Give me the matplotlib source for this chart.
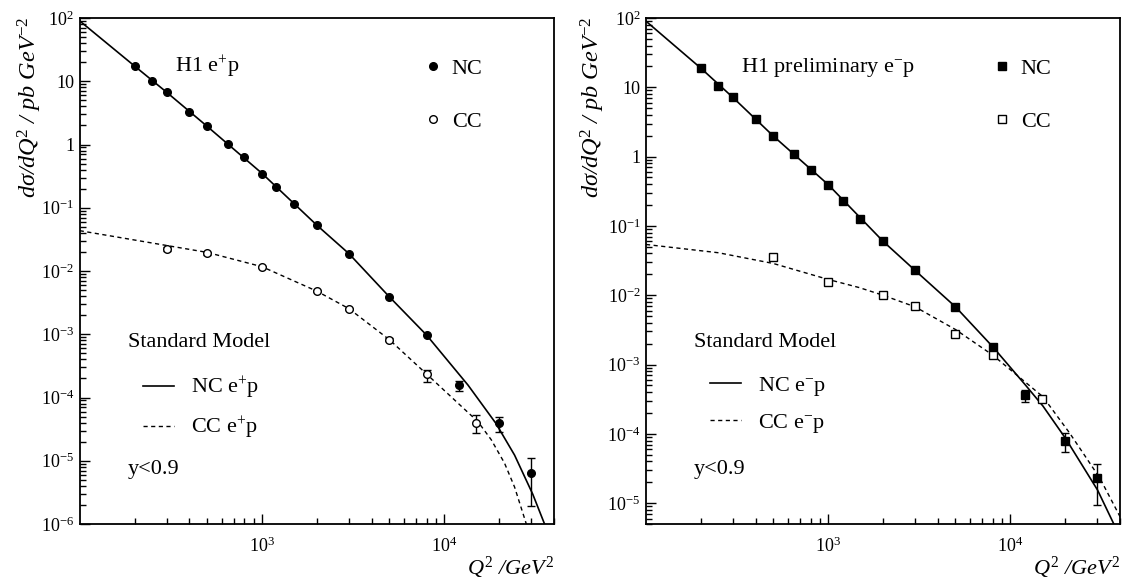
import numpy as np
import matplotlib
matplotlib.use("Agg")
import matplotlib.pyplot as plt
from matplotlib.ticker import LogLocator, NullFormatter

plt.rcParams['font.family'] = ['Liberation Serif', 'DejaVu Serif']
plt.rcParams['mathtext.fontset'] = 'custom'
plt.rcParams['mathtext.rm'] = 'Liberation Serif'
plt.rcParams['mathtext.it'] = 'Liberation Serif:italic'
plt.rcParams['mathtext.bf'] = 'Liberation Serif:bold'

# ---- e+p (left) ----
ep_nc_q = [200, 250, 300, 400, 500, 650, 800, 1000, 1200, 1500, 2000, 3000, 5000, 8000, 12000, 20000, 30000]
ep_nc_v = [17.4, 10.2, 6.7, 3.27, 1.94, 1.02, 0.63, 0.347, 0.21, 0.115, 0.0533, 0.0188, 0.0039, 9.7e-4, 1.56e-4, 3.9e-5, 6.4e-6]
ep_nc_elo = [0, 0, 0, 0, 0, 0, 0, 0, 0, 0, 0, 0, 0, 0, 2.8e-5, 1.1e-5, 4.5e-6]
ep_nc_ehi = [0, 0, 0, 0, 0, 0, 0, 0, 0, 0, 0, 0, 0, 0, 2.6e-5, 1.07e-5, 4.8e-6]

ep_cc_q = [300, 500, 1000, 2000, 3000, 5000, 8000, 15000]
ep_cc_v = [0.0225, 0.019, 0.0117, 0.00483, 0.00254, 8.2e-4, 2.35e-4, 4.0e-5]
ep_cc_elo = [0.0015, 0.0008, 0.0005, 0.0002, 0.0001, 4e-5, 5.7e-5, 1.3e-5]
ep_cc_ehi = [0.0015, 0.0008, 0.0005, 0.0002, 0.0001, 4e-5, 3.7e-5, 1.3e-5]

ep_sm_nc_q = [100, 200, 300, 500, 1000, 2000, 3000, 5000, 8000, 13500, 19200, 24300, 30600, 35500]
ep_sm_nc_v = [90, 17.4, 6.7, 1.94, 0.35, 0.053, 0.0188, 0.0039, 9.7e-4, 1.57e-4, 3.9e-5, 1.23e-5, 2.95e-6, 1.0e-6]
ep_sm_cc_q = [100, 500, 1000, 2000, 3000, 5000, 8000, 15300, 18100, 21400, 24300, 28200]
ep_sm_cc_v = [0.0434, 0.0197, 0.0117, 0.0048, 0.00254, 8.2e-4, 2.35e-4, 4.15e-5, 2.15e-5, 9.2e-6, 3.85e-6, 1.0e-6]

# ---- e-p (right) ----
em_nc_q = [200, 250, 300, 400, 500, 650, 800, 1000, 1200, 1500, 2000, 3000, 5000, 8000, 12000, 20000, 30000]
em_nc_v = [18.9, 10.6, 7.14, 3.48, 1.98, 1.08, 0.65, 0.395, 0.229, 0.125, 0.0602, 0.0228, 0.0068, 1.8e-3, 3.6e-4, 8.0e-5, 2.29e-5]
em_nc_elo = [0, 0, 0, 0, 0, 0, 0, 0, 0, 0, 0, 0, 0, 1.5e-4, 7e-5, 2.6e-5, 1.35e-5]
em_nc_ehi = [0, 0, 0, 0, 0, 0, 0, 0, 0, 0, 0, 0, 0, 1.5e-4, 7e-5, 2.2e-5, 1.36e-5]

em_cc_q = [500, 1000, 2000, 3000, 5000, 8000, 15000]
em_cc_v = [0.0357, 0.0156, 0.0100, 0.0070, 2.75e-3, 1.37e-3, 3.2e-4]
em_cc_elo = [0, 0, 0, 0, 0, 1e-4, 3.5e-5]
em_cc_ehi = [0, 0, 0, 0, 0, 1e-4, 3.5e-5]

em_sm_nc_q = [100, 200, 300, 500, 1000, 2000, 3000, 5000, 8000, 12100, 15100, 20100, 30100, 37000]
em_sm_nc_v = [90, 18.9, 7.14, 1.98, 0.395, 0.0602, 0.0228, 0.0068, 1.81e-3, 5.07e-4, 2.52e-4, 8.6e-5, 1.55e-5, 5.0e-6]
em_sm_cc_q = [100, 250, 500, 1000, 1480, 2000, 3000, 5000, 8000, 15100, 21200, 31000, 40000]
em_sm_cc_v = [0.054, 0.041, 0.0287, 0.0169, 0.0129, 0.0100, 0.0068, 3.2e-3, 1.37e-3, 3.43e-4, 1.02e-4, 2.3e-5, 6.4e-6]

ep_yticks = [1e-6, 1e-5, 1e-4, 1e-3, 1e-2, 1e-1, 1, 10, 100]
ep_ylabels = [r'$10^{-6}$', r'$10^{-5}$', r'$10^{-4}$', r'$10^{-3}$', r'$10^{-2}$', r'$10^{-1}$', '1', '10', r'$10^{2}$']
em_yticks = [1e-5, 1e-4, 1e-3, 1e-2, 1e-1, 1, 10, 100]
em_ylabels = [r'$10^{-5}$', r'$10^{-4}$', r'$10^{-3}$', r'$10^{-2}$', r'$10^{-1}$', '1', '10', r'$10^{2}$']
xticks = [1e3, 1e4]
xlabels = [r'$10^{3}$', r'$10^{4}$']

FS = 16

fig = plt.figure(figsize=(11.23, 5.88), dpi=100)
axL = fig.add_axes([0.07097, 0.10884, 0.42235, 0.86054])
axR = fig.add_axes([0.57524, 0.10884, 0.42208, 0.86054])


def setup(ax, ylim, yticks, ylabels):
    ax.set_xscale('log')
    ax.set_yscale('log')
    ax.set_xlim(100, 40000)
    ax.set_ylim(*ylim)
    ax.set_xticks(xticks)
    ax.set_xticklabels(xlabels)
    ax.set_yticks(yticks)
    ax.set_yticklabels(ylabels)
    ax.xaxis.set_minor_locator(LogLocator(base=10, subs=np.arange(2, 10)))
    ax.yaxis.set_minor_locator(LogLocator(base=10, subs=np.arange(2, 10), numticks=20))
    ax.xaxis.set_minor_formatter(NullFormatter())
    ax.yaxis.set_minor_formatter(NullFormatter())
    ax.tick_params(which='both', direction='in', top=False, right=False, labelsize=13, width=1)
    ax.tick_params(which='major', length=7)
    ax.tick_params(which='minor', length=4)
    ax.tick_params(axis='x', pad=9)
    ax.tick_params(axis='y', pad=4)
    for s in ax.spines.values():
        s.set_linewidth(1.3)
    ax.text(1.0, -0.1, r'$Q^{2}$ /$GeV^{2}$', transform=ax.transAxes, ha='right',
            va='baseline', fontsize=FS, style='italic')


def draw(ax, nc_q, nc_v, nc_lo, nc_hi, cc_q, cc_v, cc_lo, cc_hi, sm_nc_q, sm_nc_v, sm_cc_q, sm_cc_v, mk):
    nc_q = np.array(nc_q); nc_v = np.array(nc_v); nc_lo = np.array(nc_lo); nc_hi = np.array(nc_hi)
    cc_q = np.array(cc_q); cc_v = np.array(cc_v); cc_lo = np.array(cc_lo); cc_hi = np.array(cc_hi)
    l_nc, = ax.plot(sm_nc_q, sm_nc_v, '-', color='k', lw=1.2)
    l_cc, = ax.plot(sm_cc_q, sm_cc_v, color='k', lw=1.0, ls=(0, (3, 2.5)))
    m = (nc_lo + nc_hi) > 0
    ax.errorbar(nc_q[m], nc_v[m], yerr=[nc_lo[m], nc_hi[m]], fmt='none', ecolor='k', elinewidth=1, capsize=3)
    m = (cc_lo + cc_hi) > 0
    ax.errorbar(cc_q[m], cc_v[m], yerr=[cc_lo[m], cc_hi[m]], fmt='none', ecolor='k', elinewidth=1, capsize=3)
    p_nc, = ax.plot(nc_q, nc_v, ls='none', marker=mk, ms=5.5, mfc='k', mec='k')
    p_cc, = ax.plot(cc_q, cc_v, ls='none', marker=mk, ms=5.5, mfc='white', mec='k', mew=1.0)
    return l_nc, l_cc, p_nc, p_cc


setup(axL, (1e-6, 100), ep_yticks, ep_ylabels)
setup(axR, (5e-6, 100), em_yticks, em_ylabels)

hL = draw(axL, ep_nc_q, ep_nc_v, ep_nc_elo, ep_nc_ehi, ep_cc_q, ep_cc_v, ep_cc_elo, ep_cc_ehi,
          ep_sm_nc_q, ep_sm_nc_v, ep_sm_cc_q, ep_sm_cc_v, 'o')
hR = draw(axR, em_nc_q, em_nc_v, em_nc_elo, em_nc_ehi, em_cc_q, em_cc_v, em_cc_elo, em_cc_ehi,
          em_sm_nc_q, em_sm_nc_v, em_sm_cc_q, em_sm_cc_v, 's')

for ax, h, title, sign, lx in [(axL, hL, r'H1 e$^{+}$p', '+', 0.726), (axR, hR, r'H1 preliminary e$^{-}$p', '-', 0.732)]:
    ax.text(0.201, 0.893, title, transform=ax.transAxes, fontsize=FS, va='baseline')
    leg1 = ax.legend([h[2], h[3]], ['NC', 'CC'], loc='upper left', bbox_to_anchor=(lx, 0.921),
                     frameon=False, borderpad=0, borderaxespad=0, handlelength=0.8, handletextpad=0.45,
                     labelspacing=1.47, fontsize=FS, numpoints=1)
    ax.add_artist(leg1)
    ax.text(0.101, 0.3504, 'Standard Model', transform=ax.transAxes, fontsize=FS, va='baseline')
    ax.legend([h[0], h[1]], [r'NC e$^{%s}$p' % sign, r'CC e$^{%s}$p' % sign], loc='upper left',
              bbox_to_anchor=(0.134, 0.294), frameon=False, borderpad=0, borderaxespad=0,
              handlelength=1.4, handletextpad=0.77, labelspacing=0.6, fontsize=FS)
    ax.text(0.101, 0.0988, 'y<0.9', transform=ax.transAxes, fontsize=FS, va='baseline')

ylab = r'd$\sigma$/dQ$^{2}$ / pb GeV$^{-2}$'
axL.text(-0.105, 1.002, ylab, transform=axL.transAxes, rotation=90,
         ha='center', va='top', fontsize=17.5, style='italic')
axR.text(-0.112, 1.002, ylab, transform=axR.transAxes, rotation=90,
         ha='center', va='top', fontsize=17.5, style='italic')

fig.savefig('out.png', dpi=100)
